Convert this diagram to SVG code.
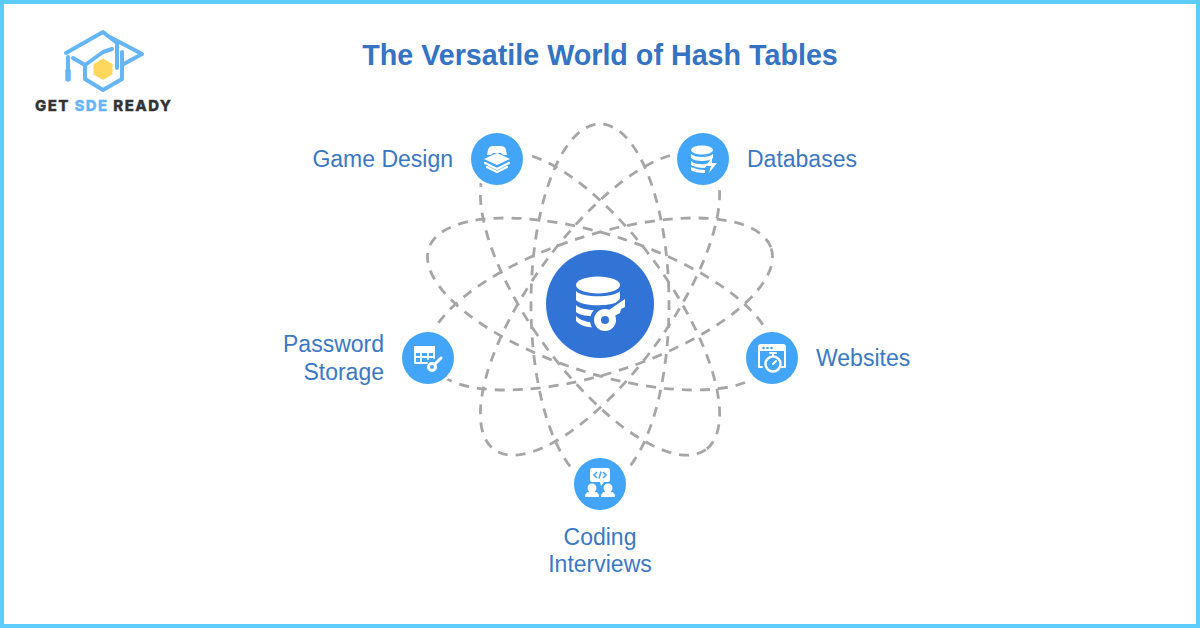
<svg xmlns="http://www.w3.org/2000/svg" width="1200" height="628" viewBox="0 0 1200 628">
<style>
text{font-family:"Liberation Sans",Arial,sans-serif}
.lab{font-size:23px;fill:#3a78c6}
.orb{fill:none;stroke:#a6a6a6;stroke-width:2.8;stroke-dasharray:10 8}
.n{fill:#42a5f8}
.halo{fill:#fff}
.w{fill:#fff}
.wl{fill:none;stroke:#fff;stroke-linecap:round;stroke-linejoin:round}
.lg{fill:none;stroke:#66b6f7;stroke-width:4;stroke-linejoin:round;stroke-linecap:round}
</style>
<rect width="1200" height="628" fill="#fff"/>
<rect x="2" y="2" width="1196" height="624" fill="none" stroke="#5ccdfb" stroke-width="4"/>
<g id="logo">
<path class="lg" d="M117 43 103 32 66 53M117 43V68M122 52V79L103 90 85 79V65L73 58M85 65 103 52 112 49M108 36 142 54 122 65"/>
<path class="lg" d="M68 57V70"/>
<path class="lg" style="stroke-width:5.500" d="M68 71V79"/>
<path d="M103 58.500 112.500 64V74.500L103 80 93.500 74.500V64Z" fill="#fdd85c"/>
<text x="35" y="110.700" textLength="136" font-size="15" font-weight="800" fill="#333" stroke="#333" stroke-width=".3" style="font-family:Inter,sans-serif">GET <tspan fill="#66b6f7" stroke="#66b6f7">SDE</tspan> READY</text>
</g>
<text id="title" x="600" y="65" text-anchor="middle" font-size="28.700" font-weight="700" fill="#3573c4">The Versatile World of Hash Tables</text>
<g id="connectors">
<ellipse class="orb" cx="600" cy="304" rx="180" ry="69" transform="rotate(90 600 304)"/>
<ellipse class="orb" cx="600" cy="304" rx="180" ry="69" transform="rotate(54 600 304)"/>
<ellipse class="orb" cx="600" cy="304" rx="180" ry="69" transform="rotate(-54 600 304)"/>
<ellipse class="orb" cx="600" cy="304" rx="180" ry="69" transform="rotate(18 600 304)"/>
<ellipse class="orb" cx="600" cy="304" rx="180" ry="69" transform="rotate(-18 600 304)"/>
</g>
<g id="hub">
<circle cx="600" cy="304" r="54" fill="#3273d6"/>
<g transform="translate(600 304)">
<ellipse class="w" cx="-2" cy="-19" rx="22" ry="8.500"/>
<path class="w" d="M-24 -13C-18 -6 14 -6 20 -13V-4C14 3 -18 3 -24 -4Z"/>
<path class="w" d="M-24 1C-18 8 14 8 20 1V8C14 14 -18 14 -24 8Z"/>
<path class="w" d="M-24 12C-18 18 -8 19 0 19V24C-10 24 -20 22 -24 17Z"/>
<circle cx="5" cy="16" r="15" fill="#3273d6"/>
<path d="M14 5 26 -7 25 4 20 6 19 11 16 14Z" fill="#3273d6" stroke="#3273d6" stroke-width="6"/>
<circle cx="5" cy="16" r="7.500" fill="none" stroke="#fff" stroke-width="7"/>
<path class="w" d="M9 6 22 -3 25 -5 25 3 21 5 20 9 16 11 13 14Z"/>
</g>
</g>
<g id="node-game-design">
<circle class="halo" cx="497" cy="159" r="29"/><circle class="n" cx="497" cy="159" r="26"/>
<g transform="translate(497 159)">
<path class="w" d="M-9 -9Q-8 -13 -4 -13H4Q8 -13 9 -9L10 -4 6 -4 4 -6H-4L-6 -4 -10 -4Z"/>
<path class="w" d="M-13 0 0 -6 13 0 0 6Z"/>
<path class="wl" stroke-width="2.200" d="M-12 4 0 10 12 4M-10 8 0 13 10 8"/>
</g>
<text class="lab" x="453" y="167" text-anchor="end">Game Design</text>
</g>
<g id="node-databases">
<circle class="halo" cx="703" cy="159" r="29"/><circle class="n" cx="703" cy="159" r="26"/>
<g transform="translate(703 159)">
<ellipse class="w" cx="-1" cy="-9" rx="11" ry="4.500"/>
<path class="w" d="M-12 -5C-8 -1 6 -1 10 -5V-1C6 3 -8 3 -12 -1Z"/>
<path class="w" d="M-12 2C-8 6 2 6 5 4L2 9C-4 9-9 8-12 6Z"/>
<path class="w" d="M-12 8C-8 10-3 11 2 11L2 14C-5 14-10 13-12 11Z"/>
<path class="w" d="M9 -2 3 7H8L6 14 14 4H9Z"/>
</g>
<text class="lab" x="747" y="167">Databases</text>
</g>
<g id="node-password-storage">
<circle class="halo" cx="428" cy="358" r="29"/><circle class="n" cx="428" cy="358" r="26"/>
<g transform="translate(428 358)">
<path class="wl" stroke-width="1.800" d="M-13 -11H6V0M-13 -11V5H-1M-13 -6H6M-13 -1H5M-7 -11V5M0 -11V1"/>
<rect class="w" x="-14" y="-12" width="21" height="5"/>
<circle cx="4" cy="9" r="3.500" fill="none" stroke="#fff" stroke-width="3"/>
<path class="wl" stroke-width="3" d="M7 6 13 0"/>
</g>
<text class="lab" x="384" y="352" text-anchor="end">Password</text>
<text class="lab" x="384" y="380" text-anchor="end">Storage</text>
</g>
<g id="node-websites">
<circle class="halo" cx="772" cy="358" r="29"/><circle class="n" cx="772" cy="358" r="26"/>
<g transform="translate(772 358)">
<path class="wl" stroke-width="2" d="M-10 9H-13V-11Q-13 -13 -11 -13H11Q13 -13 13 -11V9H10"/>
<rect class="w" x="-13" y="-13" width="26" height="6"/>
<circle cx="-8.500" cy="-10" r="1.300" fill="#42a5f8"/><circle cx="-4.500" cy="-10" r="1.300" fill="#42a5f8"/><circle cx="-.5" cy="-10" r="1.300" fill="#42a5f8"/>
<circle cx="1" cy="6" r="7.500" class="n" stroke="#fff" stroke-width="2.500"/>
<path class="wl" stroke-width="2" d="M-2 -5H4M1 -5V-2M1 6 4 3"/>
</g>
<text class="lab" x="816" y="366">Websites</text>
</g>
<g id="node-coding-interviews">
<circle class="halo" cx="600" cy="484" r="29"/><circle class="n" cx="600" cy="484" r="26"/>
<g transform="translate(600 484)">
<path class="w" d="M-8 -16H8Q10 -16 10 -14V-4Q10 -2 8 -2H4L1 2 0 -2H-8Q-10 -2-10 -4V-14Q-10 -16-8 -16Z"/>
<path fill="none" stroke="#42a5f8" stroke-width="1.500" d="M-3 -12 -6 -9-3 -6M3 -12 6 -9 3 -6M1 -12.500-1 -5.500"/>
<circle class="w" cx="-8" cy="4" r="4.500"/><circle class="w" cx="8" cy="4" r="4.500"/>
<path class="w" d="M-15 13Q-15 8-11 8H-5Q-1 8-1 13ZM1 13Q1 8 5 8H11Q15 8 15 13Z"/>
</g>
<text class="lab" x="600" y="545" text-anchor="middle">Coding</text>
<text class="lab" x="600" y="572" text-anchor="middle">Interviews</text>
</g>
</svg>
